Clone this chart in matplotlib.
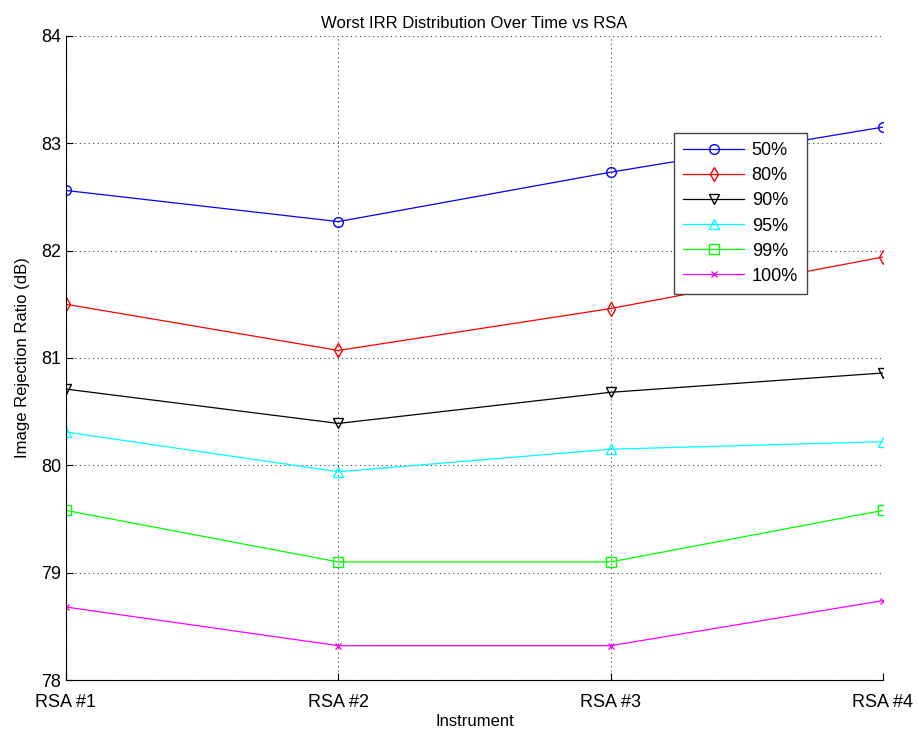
import matplotlib
matplotlib.use("Agg")
import matplotlib.pyplot as plt

instruments = ["RSA #1", "RSA #2", "RSA #3", "RSA #4"]
labels = ["50%", "80%", "90%", "95%", "99%", "100%"]
irr_50 = [82.56, 82.27, 82.73, 83.15]
irr_80 = [81.50, 81.07, 81.46, 81.94]
irr_90 = [80.71, 80.39, 80.68, 80.86]
irr_95 = [80.31, 79.94, 80.15, 80.22]
irr_99 = [79.58, 79.10, 79.10, 79.58]
irr_100 = [78.68, 78.32, 78.32, 78.74]

series = [irr_50, irr_80, irr_90, irr_95, irr_99, irr_100]
colors = ["#0000ff", "#ff0000", "#000000", "#00ffff", "#00ff00", "#ff00ff"]
markers = ["o", "d", "v", "^", "s", "x"]
msizes = [7, 7, 7, 7, 7, 5]

plt.rcParams['font.family'] = ['Liberation Sans', 'DejaVu Sans']

fig = plt.figure(figsize=[9.19, 7.32], dpi=100)
ax = fig.add_axes([0.0718, 0.071, 0.889, 0.880])

x = list(range(len(instruments)))
for y, c, m, ms, lab in zip(series, colors, markers, msizes, labels):
    ax.plot(x, y, color=c, marker=m, markersize=ms, markerfacecolor="none",
            markeredgecolor=c, linewidth=0.9, label=lab)

ax.set_xlim(0, 3)
ax.set_ylim(78, 84)
ax.set_xticks(x)
ax.set_xticklabels(instruments)
ax.set_yticks([78, 79, 80, 81, 82, 83, 84])
ax.tick_params(direction="in", labelsize=13, length=5)
ax.tick_params(axis="x", pad=10)
ax.grid(True, linestyle=(0, (1, 3)), color="#444444", linewidth=0.8)
ax.spines["top"].set_visible(False)
ax.spines["right"].set_visible(False)

ax.set_title("Worst IRR Distribution Over Time vs RSA", fontsize=12)
ax.set_xlabel("Instrument", fontsize=12, labelpad=2)
ax.set_ylabel("Image Rejection Ratio (dB)", fontsize=12, labelpad=8)

leg = ax.legend(loc="upper right", bbox_to_anchor=(0.907, 0.849), fontsize=13,
                fancybox=False, framealpha=1, edgecolor="#444444",
                handlelength=3.4, handletextpad=0.4, borderpad=0.5,
                labelspacing=0.45, borderaxespad=0)

fig.savefig("out.png", dpi=100)
